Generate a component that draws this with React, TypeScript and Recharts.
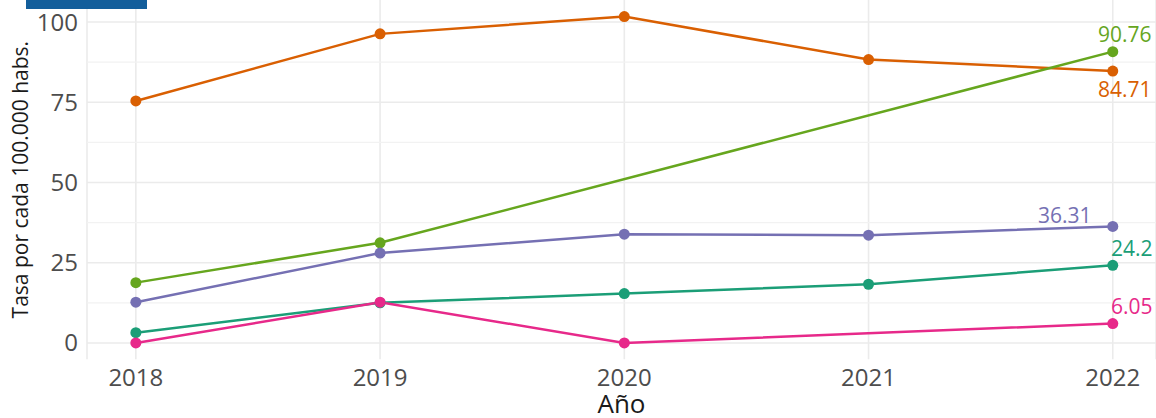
import React from 'react';
import { LineChart, Line, XAxis, YAxis, CartesianGrid, ReferenceLine, LabelList } from 'recharts';

// Datos (tasa por cada 100.000 habs.)
const years = [2018, 2019, 2020, 2021, 2022];
const naranja = [75.4, 96.3, 101.7, 88.3, 84.71];
const verde = [18.8, 31.2, null, null, 90.76];
const morado = [12.7, 28.0, 33.9, 33.6, 36.31];
const turquesa = [3.2, 12.5, 15.4, 18.3, 24.2];
const rosa = [0, 12.7, 0, null, 6.05];

const yTicks = [0, 25, 50, 75, 100];
const yMinor = [12.5, 37.5, 62.5, 87.5];

const series = [
  { key: 'naranja', values: naranja, color: '#D95F02', dx: 12, dy: 26 },
  { key: 'verde', values: verde, color: '#66A61E', dx: 12, dy: -10 },
  { key: 'morado', values: morado, color: '#7570B3', dx: -48, dy: -3 },
  { key: 'turquesa', values: turquesa, color: '#1B9E77', dx: 19, dy: -9 },
  { key: 'rosa', values: rosa, color: '#E7298A', dx: 19, dy: -10 },
];

const data = years.map((year, i) => {
  const row: Record<string, number | null> = { year };
  series.forEach((s) => {
    row[s.key] = s.values[i];
  });
  return row;
});

const FONT = '"Open Sans", "DejaVu Sans", sans-serif';

export default function App() {
  return (
    <div style={{ position: 'absolute', left: 0, top: 0, width: 1156, height: 418, background: '#fff', fontFamily: FONT }}>
      <div style={{ position: 'absolute', left: 26, top: 0, width: 121, height: 9, background: '#135e9b', zIndex: 2 }} />
      <LineChart width={1156} height={418} data={data} margin={{ top: 0, right: 0, bottom: 0, left: 0 }}>
        <CartesianGrid stroke="#ebebeb" strokeWidth={1.6} horizontalValues={yTicks} />
        {yMinor.map((v) => (
          <ReferenceLine key={v} y={v} stroke="#f2f2f2" strokeWidth={1.2} />
        ))}
        <XAxis
          dataKey="year"
          type="number"
          domain={[2017.8, 2022.177]}
          ticks={years}
          allowDataOverflow
          height={58.7}
          tickSize={0}
          tickMargin={10}
          axisLine={false}
          tick={{ fill: '#4d4d4d', fontSize: 24, fontFamily: FONT }}
          label={{ value: 'Año', position: 'insideBottom', offset: 5, fill: '#1a1a1a', fontSize: 26, fontFamily: FONT }}
        />
        <YAxis
          type="number"
          domain={[-5.085, 106.85]}
          ticks={yTicks}
          allowDataOverflow
          width={87}
          tickSize={0}
          tickMargin={9}
          axisLine={false}
          tick={{ fill: '#4d4d4d', fontSize: 24, fontFamily: FONT }}
          label={{ value: 'Tasa por cada 100.000 habs.', angle: -90, position: 'center', dx: -23, fill: '#1a1a1a', fontSize: 21, fontFamily: FONT }}
        />
        {series.map((s) => (
          <Line
            key={s.key}
            dataKey={s.key}
            stroke={s.color}
            strokeWidth={2.5}
            dot={{ r: 5.5, fill: s.color, stroke: s.color, strokeWidth: 0 }}
            activeDot={false}
            connectNulls
            isAnimationActive={false}
          >
            <LabelList
              dataKey={s.key}
              content={(props: any) => {
                if (props.index !== years.length - 1) return null;
                return (
                  <text
                    x={props.x + s.dx}
                    y={props.y + s.dy}
                    fill={s.color}
                    fontSize={21}
                    fontFamily={FONT}
                    textAnchor="middle"
                  >
                    {props.value}
                  </text>
                );
              }}
            />
          </Line>
        ))}
      </LineChart>
    </div>
  );
}
